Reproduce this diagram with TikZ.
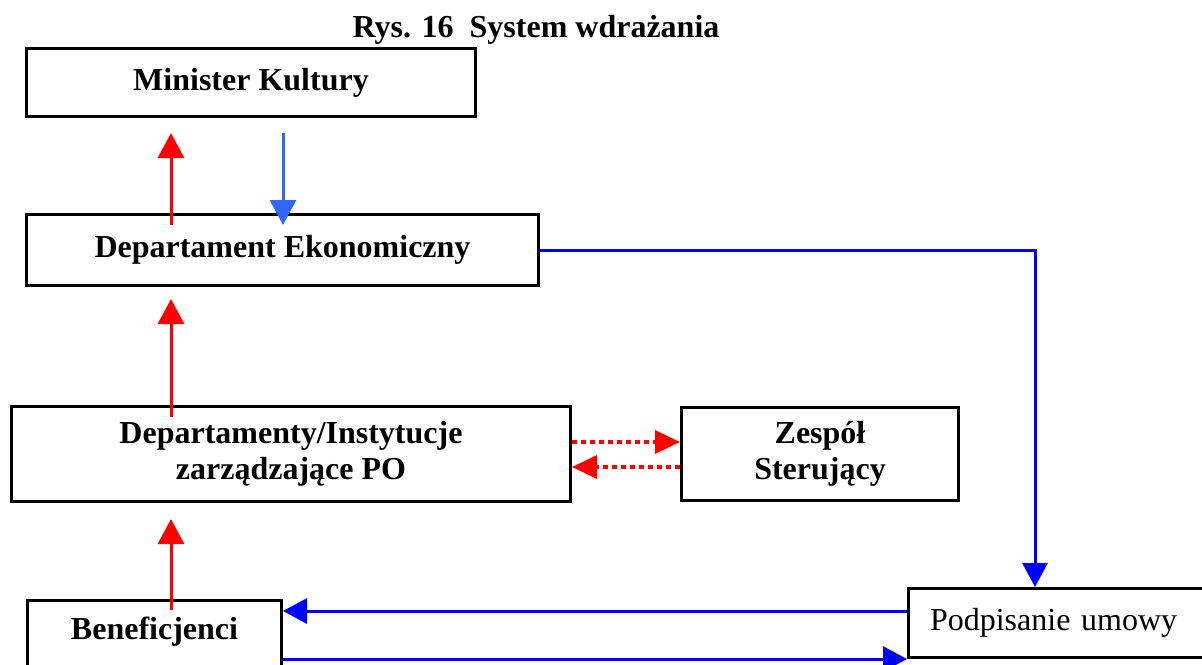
\documentclass[tikz,border=0pt]{standalone}
\usepackage{fontspec}
\setmainfont{Liberation Serif}
\usetikzlibrary{arrows.meta, positioning}

\definecolor{arrred}{RGB}{255,0,0}
\definecolor{arrblue}{RGB}{0,0,255}
\definecolor{lightblue}{RGB}{51,102,255}

\tikzset{
    box/.style={draw, line width=3pt, inner sep=0pt, align=center,
        font=\bfseries\fontsize{32}{36}\selectfont},
    upred/.style={arrows={-Triangle[length=25pt, width=26pt]}, line width=3pt, arrred},
    flowblue/.style={arrows={-Triangle[length=24pt, width=25pt]}, line width=3pt, arrblue},
    dotred/.style={arrows={-Triangle[length=25pt, width=23pt]}, line width=3.5pt, arrred,
        dash pattern=on 5pt off 4pt},
}

\begin{document}
\begin{tikzpicture}[x=1pt, y=-1pt]
    \useasboundingbox (0,0) rectangle (1202,664);
    \clip (0,0) rectangle (1202,664);

    % Title
    \node[font=\bfseries\fontsize{32}{36}\selectfont] (title) at (536,30) {Rys. 16~~System wdrażania};

    % Nodes
    \node[box, minimum width=449pt, minimum height=68pt] (minister) at (251,82.5) {Minister Kultury};
    \node[box, minimum width=512pt, minimum height=71pt] (ekon) at (282.5,250) {Departament Ekonomiczny};
    \node[box, minimum width=559pt, minimum height=95pt] (deps) at (291,454) {Departamenty/Instytucje\\zarządzające PO};
    \node[box, minimum width=277pt, minimum height=93pt, right=108pt of deps] (zesp) {Zespół\\Sterujący};
    \node[box, minimum width=254pt, minimum height=72pt, text depth=17pt] (benef) at (154.5,636.5) {Beneficjenci};
    \node[box, minimum width=305pt, minimum height=69pt, text width=262pt, align=left,
        font=\fontsize{32}{36}\selectfont] (podp) at (1061,623) {Podpisanie umowy};

    % Connections
    \draw [upred, shorten <=-12pt, shorten >=15pt] (171,0 |- ekon.north) -- (171,0 |- minister.south);
    \draw [upred, lightblue, shorten <=15pt, shorten >=-12pt] (283,0 |- minister.south) -- (283,0 |- ekon.north);
    \draw [upred, shorten <=-12pt, shorten >=12pt] (171,0 |- deps.north) -- (171,0 |- ekon.south);
    \draw [upred, shorten <=-11pt, shorten >=16pt] (171,0 |- benef.north) -- (171,0 |- deps.south);
    \draw [flowblue] (ekon.east) -| ([xshift=-26pt]podp.north);
    \draw [flowblue] ([yshift=12pt]podp.west) coordinate (p1) -- (p1 -| benef.east);
    \draw [flowblue] ([yshift=-22.5pt]benef.east) coordinate (b1) -- (b1 -| podp.west);
    \draw [dotred] ([yshift=12pt]deps.east) coordinate (d1) -- (d1 -| zesp.west);
    \draw [dotred] ([yshift=-13pt]zesp.west) coordinate (z1) -- (z1 -| deps.east);
\end{tikzpicture}
\end{document}
